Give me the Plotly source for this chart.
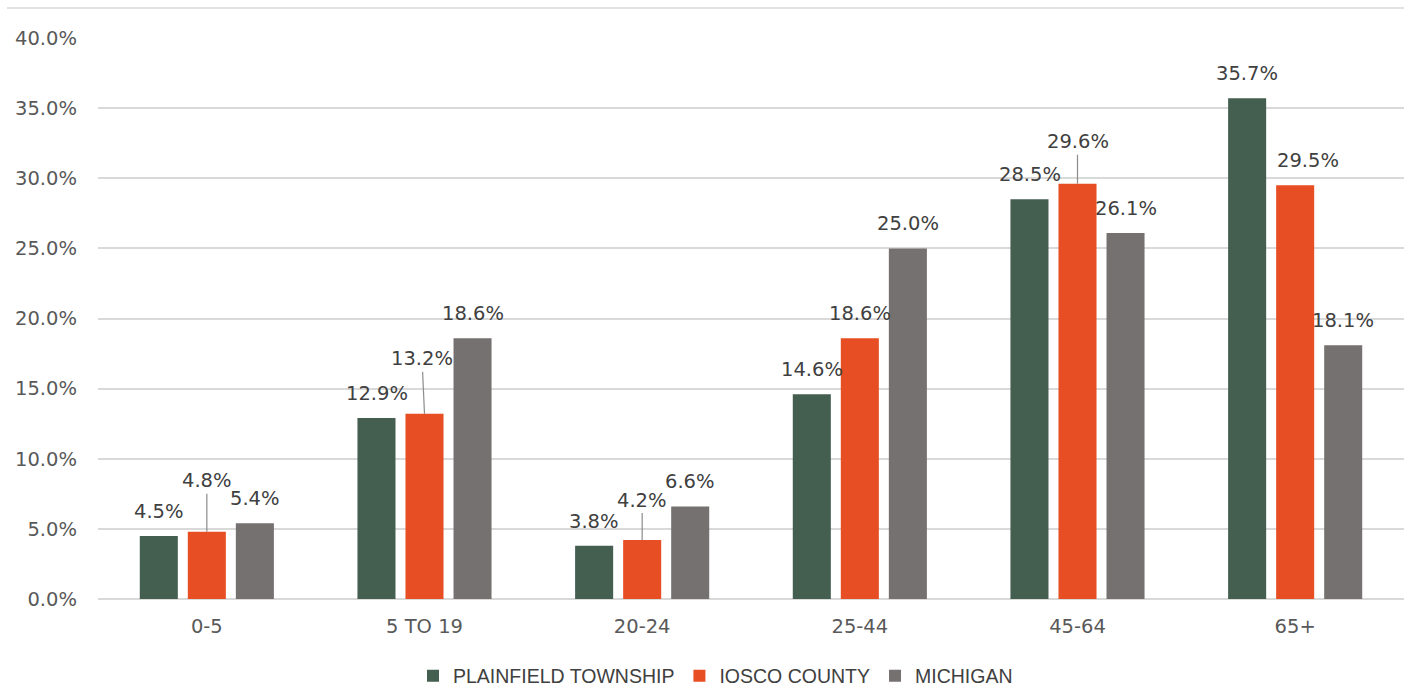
import plotly.graph_objects as go

categories = ["0-5", "5 TO 19", "20-24", "25-44", "45-64", "65+"]
plainfield = [4.5, 12.9, 3.8, 14.6, 28.5, 35.7]
iosco = [4.8, 13.2, 4.2, 18.6, 29.6, 29.5]
michigan = [5.4, 18.6, 6.6, 25.0, 26.1, 18.1]
series_names = ["PLAINFIELD TOWNSHIP", "IOSCO COUNTY", "MICHIGAN"]
y_ticks = [0, 5, 10, 15, 20, 25, 30, 35, 40]
y_tick_labels = [f"{t:.1f}%" for t in y_ticks]

colors = ["#445E50", "#E84E23", "#767171"]
series = [plainfield, iosco, michigan]

LABEL_FONT = dict(family="DejaVu Sans", size=19.5, color="#404040")
TICK_FONT = dict(family="DejaVu Sans", size=19.5, color="#595959")

fig = go.Figure()
for name, vals, col in zip(series_names, series, colors):
    fig.add_trace(go.Bar(
        x=categories, y=vals, name=name,
        marker=dict(color=col, line=dict(width=0)),
    ))

# label placement (pixels): (series, category) -> (dx, dy, leader)
bar_offsets = [-48, 0, 48]
special = {
    (1, 0): (0, -51, True),
    (1, 1): (-2.5, -55, True),
    (1, 2): (0, -40, True),
    (1, 4): (0, -42, True),
    (1, 5): (13, -24.5, False),
}
annotations = []
for si, vals in enumerate(series):
    for ci, v in enumerate(vals):
        dx, dy, leader = special.get((si, ci), (0, -24.5, False))
        txt = f"{v:.1f}%"
        if leader:
            annotations.append(dict(
                x=categories[ci], y=v, xref="x", yref="y",
                xshift=bar_offsets[si], text=txt, font=LABEL_FONT,
                showarrow=True, arrowhead=0, arrowwidth=1.2,
                arrowcolor="#8c8c8c", ax=dx, ay=dy, standoff=0,
            ))
        else:
            annotations.append(dict(
                x=categories[ci], y=v, xref="x", yref="y",
                xshift=bar_offsets[si] + dx, yshift=-dy,
                text=txt, font=LABEL_FONT, showarrow=False,
                xanchor="center", yanchor="middle",
            ))

W, H = 1404, 687
L, T, B = 98, 38, 88
PH = H - T - B

fig.update_layout(
    width=W, height=H,
    margin=dict(l=L, r=0, t=T, b=B, autoexpand=False),
    paper_bgcolor="white", plot_bgcolor="white",
    barmode="group", bargap=0.338, bargroupgap=0.208,
    annotations=annotations,
    legend=dict(
        orientation="h", xref="container", yref="container",
        x=413 / W, xanchor="left", y=11 / H, yanchor="middle",
        font=dict(family="Liberation Sans", size=19.5, color="#404040"),
        bgcolor="rgba(0,0,0,0)",
    ),
    xaxis=dict(
        tickfont=TICK_FONT, showgrid=False, showline=False, ticks="",
        ticklabelstandoff=13, automargin=False,
    ),
    yaxis=dict(
        range=[0, 40], tickvals=y_ticks, ticktext=y_tick_labels,
        tickfont=TICK_FONT, showgrid=True, gridcolor="#D9D9D9", gridwidth=1.5,
        zeroline=True, zerolinecolor="#D9D9D9", zerolinewidth=1.5,
        showline=False, ticks="", ticklabelstandoff=20, automargin=False,
    ),
    shapes=[dict(
        type="line", xref="paper", yref="paper",
        x0=(7 - L) / (W - L), x1=1, y0=1 + 30 / PH, y1=1 + 30 / PH,
        line=dict(color="#D9D9D9", width=1.5),
    )],
)

fig.write_html(
    "out.html",
    config={"displayModeBar": False},
    post_script="document.body.style.margin='0';document.body.style.overflow='hidden';",
)
